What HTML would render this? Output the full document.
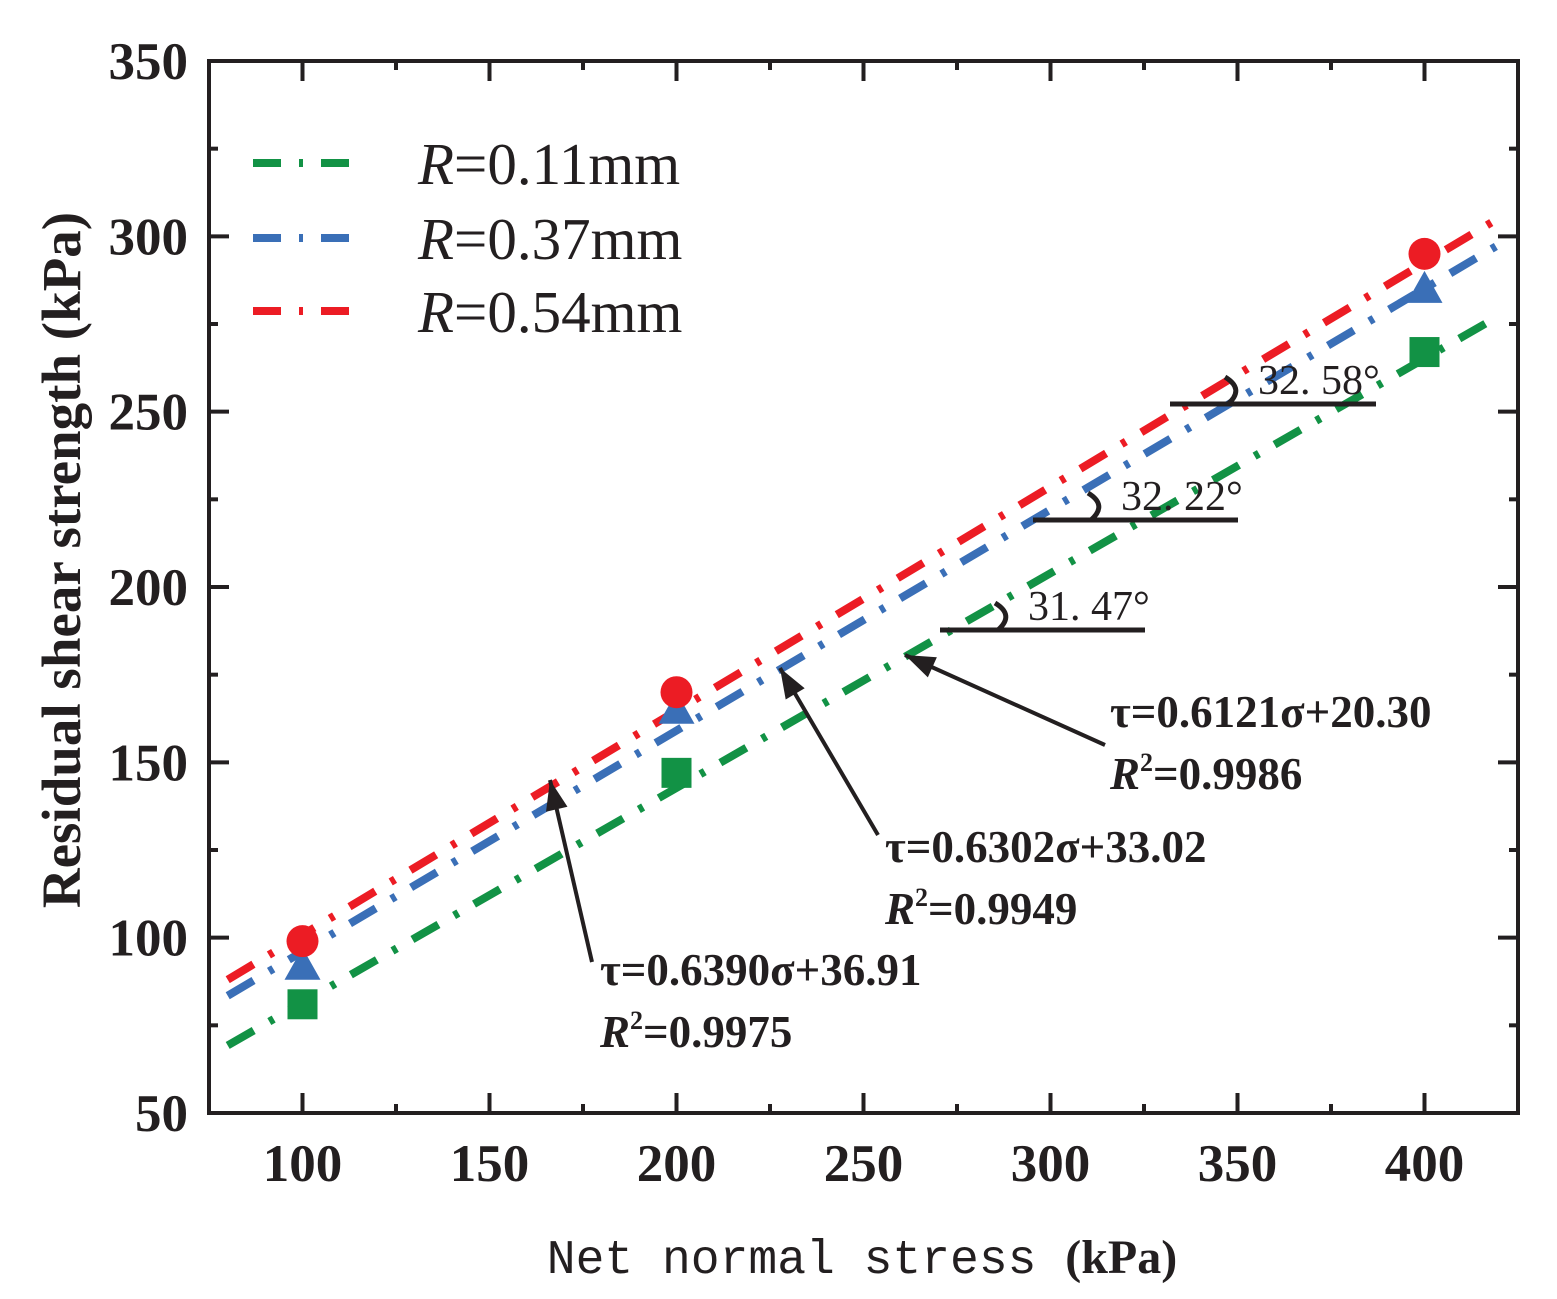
<!DOCTYPE html>
<html><head><meta charset="utf-8"><style>
html,body{margin:0;padding:0;background:#fff;}
svg{display:block;}
</style></head><body>
<svg id="chart" width="1557" height="1299" viewBox="0 0 1557 1299" xmlns="http://www.w3.org/2000/svg">
<g id="plot"></g>
<g id="axes"></g>
<g id="ann"></g>
<g id="legend"></g>
<text x="80" y="560" transform="rotate(-90 80 560)" text-anchor="middle" font-family="Liberation Serif, serif" font-weight="bold" font-size="55" fill="#231f20">Residual shear strength (kPa)</text>
<text x="862" y="1273" text-anchor="middle" font-size="48" fill="#231f20"><tspan font-family="Liberation Mono, monospace">Net normal stress </tspan><tspan font-family="Liberation Serif, serif" font-weight="bold">(kPa)</tspan></text>
</svg>
<script>
const xTicks=[100,150,200,250,300,350,400];
const yTicks=[50,100,150,200,250,300,350];
const stress=[100,200,400];
const seriesNames=["R=0.11mm","R=0.37mm","R=0.54mm"];
const colors=["#129245","#3a6fb7","#ec1c24"];
const greenVals=[81,147,267];
const blueVals=[92,165,285];
const redVals=[99,170,295];
const slopes=[0.6121,0.6302,0.6390];
const intercepts=[20.30,33.02,36.91];
const angleLabels=["31. 47°","32. 22°","32. 58°"];
const X0=209,X1=1518,Y0=1113,Y1=61;
const xs=v=>X0+(v-75)/(425-75)*(X1-X0);
const ys=v=>Y0-(v-50)/(350-50)*(Y0-Y1);
const NS="http://www.w3.org/2000/svg";
function mk(tag,attrs,parent){const e=document.createElementNS(NS,tag);for(const k in attrs)e.setAttribute(k,attrs[k]);parent.appendChild(e);return e;}
const plot=document.getElementById('plot'),axes=document.getElementById('axes'),ann=document.getElementById('ann'),leg=document.getElementById('legend');
const vals=[greenVals,blueVals,redVals];
const dash="30 18 5 18";
for(let i=0;i<3;i++){
  const l=mk('line',{x1:xs(80),y1:ys(slopes[i]*80+intercepts[i]),x2:xs(420),y2:ys(slopes[i]*420+intercepts[i]),stroke:colors[i],'stroke-width':8,'stroke-dasharray':dash},plot);
  
  
}
for(let i=0;i<3;i++){
  for(let j=0;j<stress.length;j++){
    const cx=xs(stress[j]),cy=ys(vals[i][j]);let m;
    if(i===0)m=mk('rect',{x:cx-15,y:cy-15,width:30,height:30,fill:colors[i]},plot);
    else if(i===1)m=mk('polygon',{points:`${cx},${cy-18} ${cx+18},${cy+14} ${cx-18},${cy+14}`,fill:colors[i]},plot);
    else m=mk('circle',{cx:cx,cy:cy,r:16,fill:colors[i]},plot);
    
    
  }
}
const fr=mk('rect',{x:X0,y:Y1,width:X1-X0,height:Y0-Y1,fill:'none',stroke:'#231f20','stroke-width':4},axes);


const tk={stroke:'#231f20','stroke-width':4};
for(let v=75;v<=425;v+=25){const x=xs(v);const L=(v%50===0)?20:9;
  mk('line',Object.assign({x1:x,y1:Y0,x2:x,y2:Y0-L},tk),axes);
  mk('line',Object.assign({x1:x,y1:Y1,x2:x,y2:Y1+L},tk),axes);}
for(let v=50;v<=350;v+=25){const y=ys(v);const L=(v%50===0)?20:9;
  mk('line',Object.assign({x1:X0,y1:y,x2:X0+L,y2:y},tk),axes);
  mk('line',Object.assign({x1:X1,y1:y,x2:X1-L,y2:y},tk),axes);}
xTicks.forEach(v=>{const t=mk('text',{x:xs(v),y:1181,'text-anchor':'middle','font-family':'Liberation Serif, serif','font-weight':'bold','font-size':53,fill:'#231f20'},axes);t.textContent=v;
  
  });
yTicks.forEach(v=>{const t=mk('text',{x:188,y:ys(v)+18,'text-anchor':'end','font-family':'Liberation Serif, serif','font-weight':'bold','font-size':53,fill:'#231f20'},axes);t.textContent=v;
  
  });
const ly=[163,238,311];
for(let i=0;i<3;i++){
  mk('line',{x1:253,y1:ly[i],x2:349,y2:ly[i],stroke:colors[i],'stroke-width':8,'stroke-dasharray':'28 18 4 18'},leg);
  const t=mk('text',{x:418,y:ly[i]+21,'font-family':'Liberation Serif, serif','font-size':59,fill:'#231f20'},leg);
  t.innerHTML='<tspan font-style="italic">R</tspan>'+seriesNames[i].slice(1);
  
  
}
const ang=[[940,630,1145],[1033,520,1238],[1170,404,1376]];
for(let i=0;i<3;i++){const [a,y,b]=ang[i];
  mk('line',{x1:a,y1:y,x2:b,y2:y,stroke:'#231f20','stroke-width':5},ann);
  mk('path',{d:`M${a+55},${y-27} Q${a+75},${y-15} ${a+58},${y}`,fill:'none',stroke:'#231f20','stroke-width':5},ann);
  const t=mk('text',{x:a+88,y:y-10,'font-family':'Liberation Serif, serif','font-size':42,fill:'#231f20'},ann);
  t.textContent=angleLabels[i];}
function arrow(x1,y1,x2,y2){mk('line',{x1,y1,x2,y2,stroke:'#231f20','stroke-width':4},ann);
  const ang=Math.atan2(y2-y1,x2-x1),L=30,W=11;
  const bx=x2-L*Math.cos(ang),by=y2-L*Math.sin(ang);
  mk('polygon',{points:`${x2},${y2} ${bx-W*Math.sin(ang)},${by+W*Math.cos(ang)} ${bx+W*Math.sin(ang)},${by-W*Math.cos(ang)}`,fill:'#231f20'},ann);}
arrow(1105,745,905,655);arrow(878,835,780,668);arrow(592,962,550,780);
const eqs=[[1110,727,'τ=0.6121σ+20.30','0.9986'],[885,862,'τ=0.6302σ+33.02','0.9949'],[600,985,'τ=0.6390σ+36.91','0.9975']];
eqs.forEach(e=>{const t=mk('text',{x:e[0],y:e[1],'font-family':'Liberation Serif, serif','font-weight':'bold','font-size':45,fill:'#231f20'},ann);t.textContent=e[2];
 const r=mk('text',{x:e[0],y:e[1]+62,'font-family':'Liberation Serif, serif','font-weight':'bold','font-size':45,fill:'#231f20'},ann);
 r.innerHTML='<tspan font-style="italic">R</tspan><tspan font-size="26" dy="-18">2</tspan><tspan dy="18">='+e[3]+'</tspan>';});
</script>
</body></html>
